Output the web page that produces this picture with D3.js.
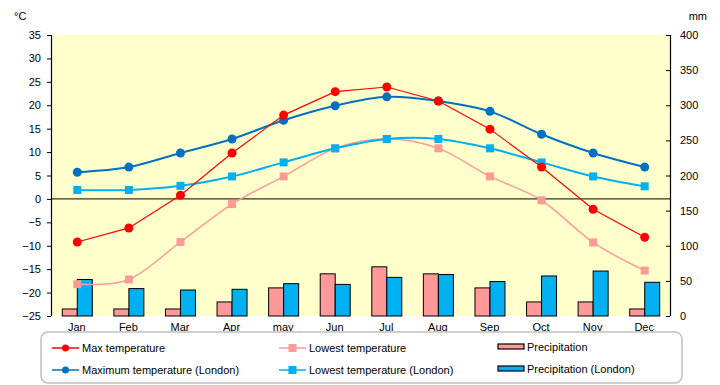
<!DOCTYPE html>
<html><head><meta charset="utf-8">
<script src="https://cdn.jsdelivr.net/npm/d3@7"></script>
<style>
html,body{margin:0;padding:0;background:#fff;}
text{font-family:"Liberation Sans",Arial,sans-serif;font-size:11px;fill:#000;}
</style></head>
<body>
<svg id="c" width="720" height="385"></svg>
<script>
const months = ["Jan","Feb","Mar","Apr","may","Jun","Jul","Aug","Sep","Oct","Nov","Dec"];
const maxTemp = [-9.2,-6.2,0.8,9.8,17.9,22.9,23.9,20.9,14.9,6.8,-2.2,-8.2];
const lowTemp = [-18.2,-17.2,-9.2,-1.1,4.8,10.8,12.8,10.8,4.8,-0.3,-9.3,-15.3];
const maxTempLondon = [5.7,6.8,9.8,12.8,16.8,19.9,21.8,20.9,18.7,13.8,9.8,6.8];
const lowTempLondon = [1.9,1.9,2.8,4.8,7.8,10.8,12.8,12.8,10.8,7.8,4.8,2.7];
const precip = [10,10,10,20,40,60,70,60,40,20,20,10];
const precipLondon = [52,39,37,38,46,45,55,59,49,57,64,48];
const tempTicks = [-25,-20,-15,-10,-5,0,5,10,15,20,25,30,35];
const precipTicks = [0,50,100,150,200,250,300,350,400];

const svg = d3.select("#c");
const L=51, R=670, T=35, B=316;

const x = d3.scaleBand().domain(months).range([L,R]).padding(0);
const yT = d3.scaleLinear().domain([-25,35]).range([B,T]);
const yP = d3.scaleLinear().domain([0,400]).range([B,T]);
const cx = m => x(m) + x.bandwidth()/2 + 0.5;

// plot background
svg.append("rect").attr("x",L).attr("y",T).attr("width",R-L).attr("height",B-T).attr("fill","#FFFFCC");

// zero line
svg.append("line").attr("x1",L).attr("x2",R).attr("y1",yT(0)).attr("y2",yT(0)).attr("stroke","#000").attr("stroke-width",1);

// bars
const bw = 15;
const gB = svg.append("g");
gB.selectAll("rect.p").data(precip).join("rect")
  .attr("x",(d,i)=>cx(months[i])-bw).attr("y",d=>yP(d)).attr("width",bw).attr("height",d=>yP(0)-yP(d))
  .attr("fill","#FF9999").attr("stroke","#000").attr("stroke-width",1);
gB.selectAll("rect.l").data(precipLondon).join("rect")
  .attr("x",(d,i)=>cx(months[i])).attr("y",d=>yP(d)).attr("width",bw).attr("height",d=>yP(0)-yP(d))
  .attr("fill","#00B0F0").attr("stroke","#000").attr("stroke-width",1);

// axes
const axL = svg.append("g").attr("transform",`translate(${L},0)`)
  .call(d3.axisLeft(yT).tickValues(tempTicks).tickSize(4).tickPadding(6).tickFormat(d3.format("d")));
const axR = svg.append("g").attr("transform",`translate(${R},0)`)
  .call(d3.axisRight(yP).tickValues(precipTicks).tickSize(-4).tickPadding(10).tickFormat(d3.format("d")));
[axL,axR].forEach(a=>{
  a.select(".domain").attr("stroke","#000").attr("stroke-width",1.2);
  a.selectAll("text").style("font-family","'Liberation Sans',Arial,sans-serif").style("font-size","11px").attr("fill","#000");
});
axL.select(".domain").attr("d",`M0.5,${T}V${B}`);
axR.select(".domain").attr("d",`M0.5,${T}V${B}`);
const axB = svg.append("g").attr("transform",`translate(0,${B})`)
  .call(d3.axisBottom(x).tickSize(0).tickPadding(7));
axB.select(".domain").remove();
axB.selectAll("text").style("font-family","'Liberation Sans',Arial,sans-serif").style("font-size","11px").attr("fill","#000");

// units
svg.append("text").attr("x",14).attr("y",20).text("°C");
svg.append("text").attr("x",707).attr("y",20).attr("text-anchor","end").text("mm");

// lines
function drawLine(data, color, width, curve, shape, size){
  const line = d3.line().x((d,i)=>cx(months[i])).y(d=>yT(d)).curve(curve);
  svg.append("path").datum(data).attr("d",line).attr("fill","none").attr("stroke",color).attr("stroke-width",width);
  const g = svg.append("g");
  if(shape==="circle"){
    g.selectAll("circle").data(data).join("circle").attr("cx",(d,i)=>cx(months[i])).attr("cy",d=>yT(d)).attr("r",size).attr("fill",color);
  } else {
    g.selectAll("rect").data(data).join("rect").attr("x",(d,i)=>cx(months[i])-size).attr("y",d=>yT(d)-size).attr("width",size*2).attr("height",size*2).attr("fill",color);
  }
}
drawLine(lowTemp, "#FF9999", 1.5, d3.curveCardinal.tension(0), "square", 4);
drawLine(lowTempLondon, "#00B0F0", 2, d3.curveCardinal.tension(0), "square", 4);
drawLine(maxTempLondon, "#0070C0", 2, d3.curveCardinal.tension(0), "circle", 4.5);
drawLine(maxTemp, "#FF0000", 1.2, d3.curveLinear, "circle", 4.5);

// legend
svg.append("rect").attr("x",41).attr("y",332).attr("width",641).attr("height",51).attr("rx",7).attr("ry",7)
  .attr("fill","#fff").attr("stroke","#C0C0C0").attr("stroke-width",1.5);
const legendItems = [
  {label:"Max temperature", color:"#FF0000", type:"circle", x:52, y:348},
  {label:"Maximum temperature (London)", color:"#0070C0", type:"circle", x:52, y:370},
  {label:"Lowest temperature", color:"#FF9999", type:"square", x:279, y:348},
  {label:"Lowest temperature (London)", color:"#00B0F0", type:"square", x:279, y:370},
  {label:"Precipitation", color:"#FF9999", type:"bar", x:498, y:347},
  {label:"Precipitation (London)", color:"#00B0F0", type:"bar", x:498, y:369}
];
const lg = svg.append("g");
legendItems.forEach(it=>{
  if(it.type==="bar"){
    lg.append("rect").attr("x",it.x).attr("y",it.y-3).attr("width",26).attr("height",5).attr("fill",it.color).attr("stroke","#000").attr("stroke-width",1.2);
    lg.append("text").attr("x",it.x+29).attr("y",it.y+4).text(it.label);
  } else {
    lg.append("line").attr("x1",it.x).attr("x2",it.x+27).attr("y1",it.y).attr("y2",it.y).attr("stroke",it.color).attr("stroke-width",1.5);
    if(it.type==="circle") lg.append("circle").attr("cx",it.x+13.5).attr("cy",it.y).attr("r",3.5).attr("fill",it.color);
    else lg.append("rect").attr("x",it.x+9.5).attr("y",it.y-4).attr("width",8).attr("height",8).attr("fill",it.color);
    lg.append("text").attr("x",it.x+30).attr("y",it.y+4).text(it.label);
  }
});
</script>
</body></html>
